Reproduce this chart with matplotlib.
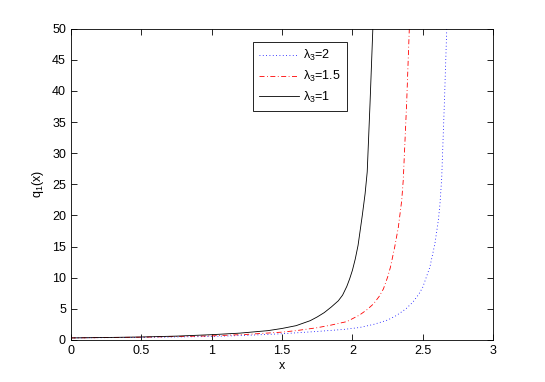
import matplotlib
matplotlib.use("Agg")
import matplotlib.pyplot as plt

# curves, one per lambda_3 value
x_l1 = [0.0, 0.25, 0.5, 0.75, 1.0, 1.2, 1.4, 1.5, 1.6, 1.7, 1.75, 1.8, 1.85,
        1.9, 1.93, 1.96, 1.98, 2.0, 2.02, 2.04, 2.07, 2.09, 2.105, 2.125, 2.145]
y_l1 = [0.33, 0.40, 0.48, 0.62, 0.85, 1.1, 1.5, 1.85, 2.3, 3.1, 3.7, 4.4, 5.3,
        6.3, 7.2, 8.6, 9.8, 11.2, 13.0, 15.2, 20.0, 23.5, 27.0, 38.0, 50.0]

x_l15 = [0.0, 0.5, 1.0, 1.25, 1.5, 1.6, 1.75, 1.85, 1.91, 1.96, 2.05, 2.1,
         2.15, 2.19, 2.22, 2.25, 2.27, 2.3, 2.326, 2.35, 2.361, 2.385, 2.404]
y_l15 = [0.33, 0.45, 0.66, 0.9, 1.26, 1.5, 1.97, 2.4, 2.7, 2.95, 4.0, 4.8,
         5.8, 7.0, 8.2, 10.1, 11.7, 14.9, 18.1, 22.4, 25.7, 38.0, 50.0]

x_l2 = [0.0, 0.5, 1.0, 1.25, 1.5, 1.75, 1.94, 2.05, 2.15, 2.25, 2.31, 2.38,
        2.43, 2.47, 2.5, 2.55, 2.586, 2.61, 2.622, 2.634, 2.653, 2.67]
y_l2 = [0.33, 0.42, 0.56, 0.75, 1.0, 1.37, 1.7, 2.0, 2.5, 3.2, 3.9, 5.0,
        6.1, 7.3, 8.5, 11.7, 15.5, 19.2, 21.9, 26.0, 38.0, 50.0]

labels = [r'$\mathregular{\lambda_3}$=2', r'$\mathregular{\lambda_3}$=1.5',
          r'$\mathregular{\lambda_3}$=1']

plt.rcParams['font.family'] = ['Liberation Sans', 'DejaVu Sans']
plt.rcParams['font.size'] = 9

fig = plt.figure(figsize=(5.45, 3.82), dpi=100)
ax = fig.add_axes([0.13, 0.11, 0.775, 0.815])

ax.plot(x_l2, y_l2, color='blue', lw=0.6, linestyle=(0, (1, 3)), label=labels[0])
ax.plot(x_l15, y_l15, color='red', lw=0.6, linestyle=(0, (6, 3, 1, 3)), label=labels[1])
ax.plot(x_l1, y_l1, color='black', lw=0.6, linestyle='-', label=labels[2])

ax.set_xlim(0, 3)
ax.set_ylim(0, 50)
ax.set_xticks([0, 0.5, 1, 1.5, 2, 2.5, 3])
ax.set_xticklabels(['0', '0.5', '1', '1.5', '2', '2.5', '3'])
ax.set_yticks(range(0, 51, 5))
ax.tick_params(direction='in', top=True, right=True, length=4, width=0.6)
for s in ax.spines.values():
    s.set_linewidth(0.6)

ax.set_xlabel('x', labelpad=2)
ax.set_ylabel(r'$\mathregular{q_1(x)}$', labelpad=4)

leg = ax.legend(loc='upper left', bbox_to_anchor=(0.464, 0.890),
                bbox_transform=fig.transFigure, fancybox=False,
                edgecolor='black', framealpha=1, handlelength=3.2,
                handletextpad=0.3, borderpad=0.5, labelspacing=0.45,
                borderaxespad=0)
leg.get_frame().set_linewidth(0.6)

fig.savefig('out.png', dpi=100)
